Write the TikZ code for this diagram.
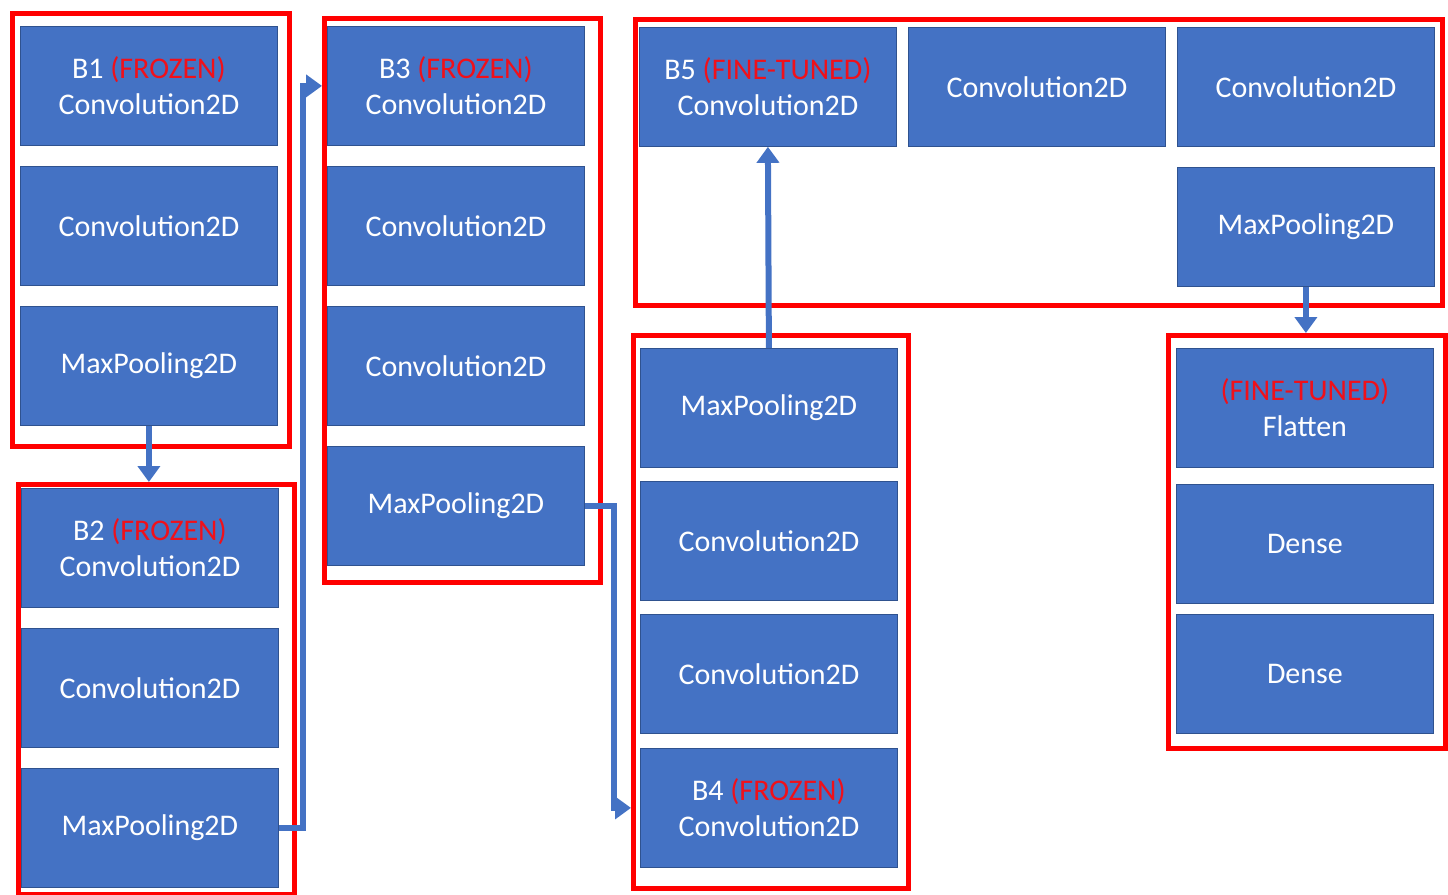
\documentclass[tikz,border=0pt]{standalone}
\usepackage{fontspec}
\setmainfont{Carlito}
\usetikzlibrary{arrows.meta}
\definecolor{blkblue}{HTML}{4472C4}
\definecolor{blkedge}{HTML}{2F528F}
\definecolor{tagred}{HTML}{F0101A}
\tikzset{
  blk/.style={rectangle, fill=blkblue, draw=blkedge, line width=0.8pt,
    minimum width=257pt, minimum height=119pt, inner sep=0pt,
    anchor=north west, align=center, text=white,
    font=\fontsize{30}{36}\selectfont},
  frame/.style={rectangle, draw=red, line width=4.5pt, inner sep=0pt, anchor=north west},
  conn/.style={draw=blkblue, line width=6pt, -{Triangle[width=22pt,length=16pt]}},
}
\newcommand{\tag}[1]{\textcolor{tagred}{#1}}
\begin{document}
\begin{tikzpicture}[x=1pt,y=-1pt]
\useasboundingbox (0,0) rectangle (1448,894);

% block 1
\node[blk] (b1c) at (20,26) {B1 \tag{(FROZEN)}\\Convolution2D};
\node[blk] (b1d) at (20,166) {Convolution2D};
\node[blk] (b1p) at (20,306) {MaxPooling2D};
\node[frame, minimum width=277pt, minimum height=433pt] (f1) at (10,11) {};

% block 2
\node[blk] (b2c) at (21,488) {B2 \tag{(FROZEN)}\\Convolution2D};
\node[blk] (b2d) at (21,628) {Convolution2D};
\node[blk] (b2p) at (21,768) {MaxPooling2D};
\node[frame, minimum width=276pt, minimum height=410pt] (f2) at (16,482) {};

% block 3
\node[blk] (b3c) at (327,26) {B3 \tag{(FROZEN)}\\Convolution2D};
\node[blk] (b3d) at (327,166) {Convolution2D};
\node[blk] (b3e) at (327,306) {Convolution2D};
\node[blk] (b3p) at (327,446) {MaxPooling2D};
\node[frame, minimum width=276pt, minimum height=564pt] (f3) at (322,16) {};

% block 4
\node[blk] (b4p) at (640,348) {MaxPooling2D};
\node[blk] (b4e) at (640,481) {Convolution2D};
\node[blk] (b4d) at (640,614) {Convolution2D};
\node[blk] (b4c) at (640,748) {B4 \tag{(FROZEN)}\\Convolution2D};
\node[frame, minimum width=275pt, minimum height=553pt] (f4) at (631,333) {};

% block 5
\node[blk] (b5c) at (639,27) {B5 \tag{(FINE-TUNED)}\\Convolution2D};
\node[blk] (b5d) at (908,27) {Convolution2D};
\node[blk] (b5e) at (1177,27) {Convolution2D};
\node[blk] (b5p) at (1177,167) {MaxPooling2D};
\node[frame, minimum width=807pt, minimum height=286pt] (f5) at (633,17) {};

% classifier head
\node[blk] (hf) at (1176,348) {\tag{(FINE-TUNED)}\\Flatten};
\node[blk] (hd1) at (1176,484) {Dense};
\node[blk] (hd2) at (1176,614) {Dense};
\node[frame, minimum width=277pt, minimum height=413pt] (f6) at (1166,333) {};

% connectors
\draw[conn] (b1p.south) -- (b1p.south |- f2.north);
\draw[conn] (b2p.east) -- ++(24,0) |- (f3.west |- b3c.west);
\draw[conn] (b3p.east) -- ++(29,0) |- (f4.west |- b4c.west);
\draw[conn] (b4p.north) -- (b5c.south);
\draw[conn] (b5p.south) -- (b5p.south |- f6.north);
\end{tikzpicture}
\end{document}
